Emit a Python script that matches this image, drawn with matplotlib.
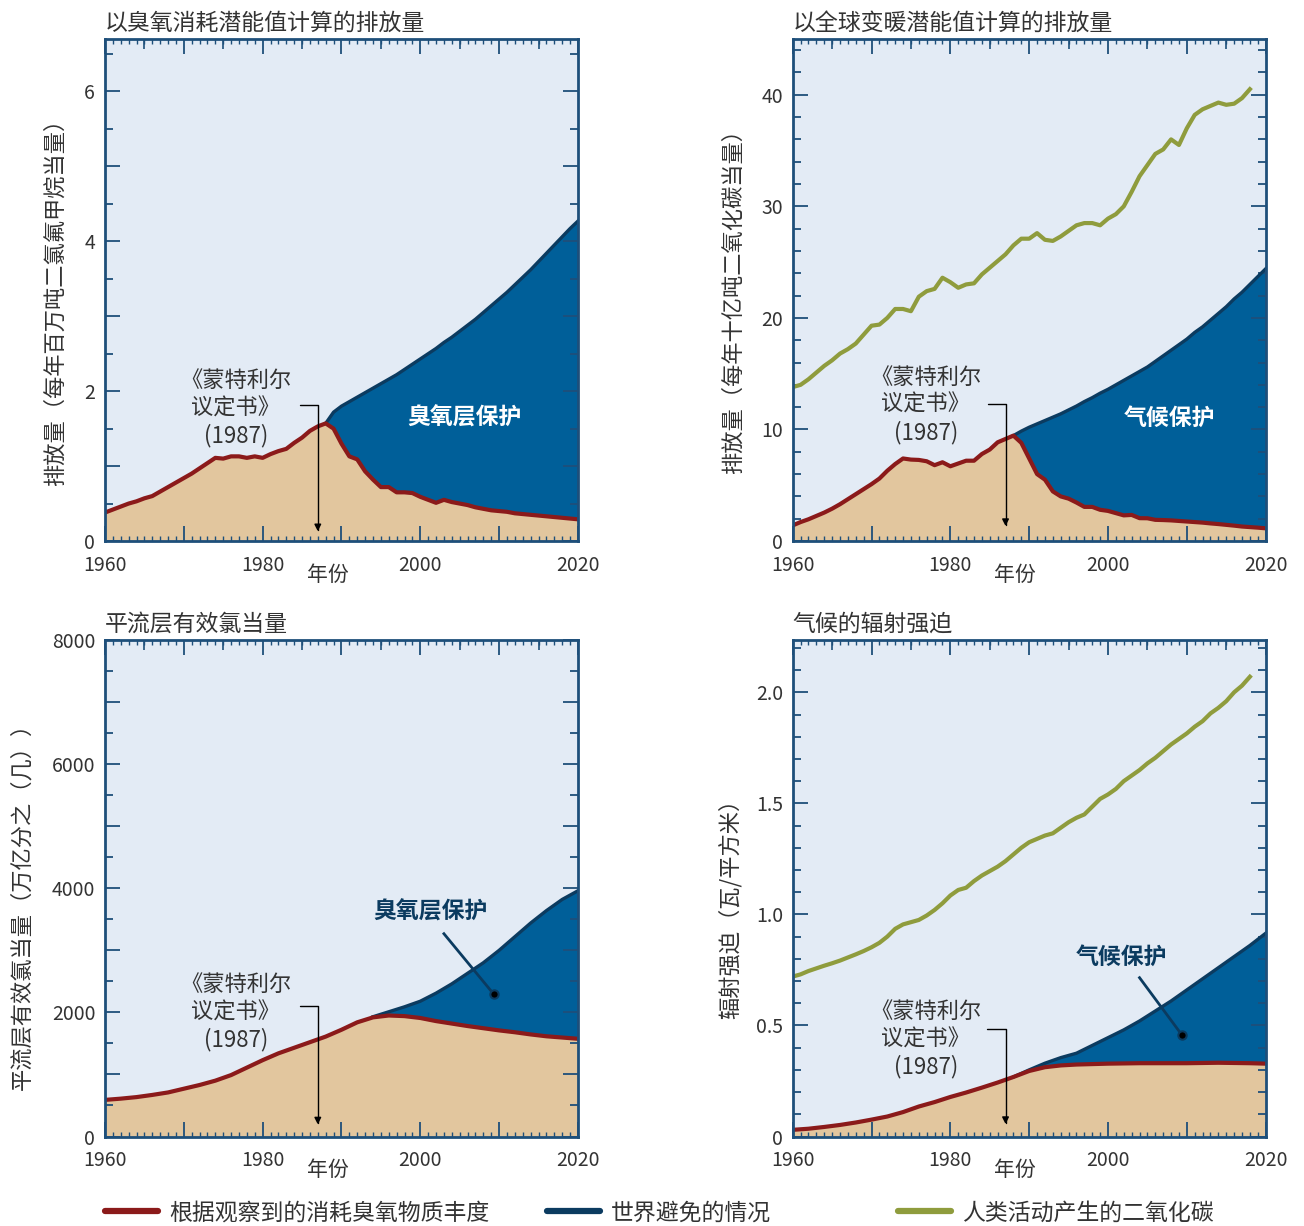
import matplotlib.pyplot as plt
import matplotlib.transforms as mtransforms
import numpy as np
from matplotlib.lines import Line2D
from matplotlib.ticker import MultipleLocator, FuncFormatter

plt.rcParams['font.family'] = ['Noto Sans CJK SC', 'DejaVu Sans']

# ---- datos ----
years = list(range(1960, 2021))
years_avoided = list(range(1988, 2021))
years_co2 = list(range(1960, 2019))
years_2 = list(range(1960, 2021, 2))
years_eesc_avoided = list(range(1994, 2021, 2))
years_rf_avoided = list(range(1988, 2021, 2))

# 以臭氧消耗潜能值计算的排放量 (百万吨 CFC-11 当量)
odp_observed = [0.38, 0.42, 0.46, 0.50, 0.53, 0.57, 0.60, 0.66, 0.72, 0.78,
                0.84, 0.90, 0.97, 1.04, 1.11, 1.10, 1.13, 1.13, 1.11, 1.13,
                1.11, 1.16, 1.20, 1.23, 1.31, 1.38, 1.47, 1.53, 1.57, 1.50,
                1.30, 1.13, 1.09, 0.93, 0.82, 0.72, 0.72, 0.65, 0.65, 0.64,
                0.59, 0.55, 0.51, 0.55, 0.52, 0.50, 0.48, 0.45, 0.43, 0.41,
                0.40, 0.39, 0.37, 0.36, 0.35, 0.34, 0.33, 0.32, 0.31, 0.30,
                0.29]
odp_avoided = [1.57, 1.72, 1.80, 1.86, 1.92, 1.98, 2.04, 2.10, 2.16, 2.22,
               2.29, 2.36, 2.43, 2.50, 2.57, 2.65, 2.72, 2.80, 2.88, 2.96,
               3.05, 3.14, 3.23, 3.32, 3.42, 3.52, 3.62, 3.73, 3.84, 3.95,
               4.06, 4.17, 4.27]

# 以全球变暖潜能值计算的排放量 (十亿吨 CO2 当量)
gwp_observed = [1.4, 1.7, 1.95, 2.25, 2.55, 2.9, 3.3, 3.75, 4.2, 4.65,
                5.1, 5.6, 6.3, 6.9, 7.4, 7.3, 7.27, 7.15, 6.8, 7.06,
                6.7, 6.95, 7.2, 7.2, 7.8, 8.2, 8.85, 9.15, 9.45, 8.8,
                7.4, 6.0, 5.5, 4.45, 4.0, 3.8, 3.45, 3.06, 3.06, 2.8,
                2.7, 2.5, 2.3, 2.34, 2.05, 2.04, 1.9, 1.88, 1.85, 1.8,
                1.75, 1.7, 1.65, 1.58, 1.52, 1.45, 1.38, 1.3, 1.25, 1.2,
                1.14]
gwp_avoided = [9.45, 9.85, 10.2, 10.5, 10.8, 11.1, 11.4, 11.75, 12.1, 12.5,
               12.85, 13.25, 13.6, 14.0, 14.4, 14.8, 15.2, 15.6, 16.1, 16.6,
               17.1, 17.6, 18.1, 18.7, 19.2, 19.8, 20.4, 21.0, 21.7, 22.3,
               23.0, 23.7, 24.4]
co2_emissions = [13.8, 14.0, 14.5, 15.1, 15.7, 16.2, 16.8, 17.2, 17.7, 18.5,
                 19.3, 19.4, 20.0, 20.8, 20.8, 20.6, 21.9, 22.4, 22.6, 23.6,
                 23.2, 22.7, 23.0, 23.1, 23.9, 24.5, 25.1, 25.7, 26.5, 27.1,
                 27.1, 27.6, 27.0, 26.9, 27.3, 27.8, 28.3, 28.5, 28.5, 28.3,
                 28.9, 29.3, 30.0, 31.3, 32.7, 33.7, 34.7, 35.1, 36.0, 35.5,
                 37.0, 38.2, 38.7, 39.0, 39.3, 39.1, 39.2, 39.7, 40.5]

# 平流层有效氯当量 (ppt)
eesc_observed = [590, 610, 635, 670, 710, 770, 830, 900, 990, 1110,
                 1230, 1340, 1430, 1520, 1610, 1720, 1840, 1920, 1950, 1940,
                 1910, 1860, 1820, 1780, 1745, 1710, 1680, 1645, 1615, 1595,
                 1575]
eesc_avoided = [1930, 2010, 2090, 2180, 2310, 2460, 2630, 2800, 3000, 3220,
                3440, 3640, 3820, 3960]

# 气候的辐射强迫 (W/m2)
rf_observed = [0.03, 0.035, 0.043, 0.052, 0.063, 0.076, 0.09, 0.11, 0.135, 0.155,
               0.178, 0.198, 0.22, 0.243, 0.268, 0.295, 0.312, 0.32, 0.324, 0.326,
               0.328, 0.329, 0.33, 0.33, 0.33, 0.33, 0.331, 0.332, 0.331, 0.33,
               0.328]
rf_avoided = [0.268, 0.30, 0.33, 0.355, 0.375, 0.41, 0.445, 0.48, 0.52, 0.565,
              0.61, 0.66, 0.71, 0.76, 0.81, 0.86, 0.915]
rf_co2 = [0.72, 0.73, 0.745, 0.757, 0.769, 0.78, 0.792, 0.806, 0.82, 0.835,
          0.852, 0.872, 0.90, 0.935, 0.955, 0.965, 0.975, 0.995, 1.02, 1.05,
          1.085, 1.11, 1.12, 1.15, 1.175, 1.195, 1.215, 1.24, 1.27, 1.30,
          1.325, 1.34, 1.355, 1.365, 1.39, 1.415, 1.435, 1.45, 1.485, 1.52,
          1.54, 1.565, 1.60, 1.625, 1.65, 1.68, 1.705, 1.735, 1.765, 1.79,
          1.815, 1.845, 1.87, 1.905, 1.93, 1.96, 2.0, 2.03, 2.07]

legend_labels = ['根据观察到的消耗臭氧物质丰度', '世界避免的情况', '人类活动产生的二氧化碳']

BG = '#E3EBF5'
TAN = '#E2C69E'
BLUE = '#005F99'
NAVY = '#0B3B60'
RED = '#8B1A1A'
OLIVE = '#8F9C3D'
FRAME = '#1E4F7A'
TEXT = '#333333'


def _style_axes(ax, ylim, major, minor, label_step, fmt):
    """Marco, marcas hacia dentro y etiquetas de los ejes."""
    ax.set_xlim(1960, 2020)
    ax.set_ylim(*ylim)
    ax.set_facecolor(BG)
    for sp in ax.spines.values():
        sp.set_color(FRAME)
        sp.set_linewidth(2)
        sp.set_zorder(10)

    ax.xaxis.set_major_locator(MultipleLocator(10))
    ax.xaxis.set_minor_locator(MultipleLocator(1))
    ax.xaxis.set_major_formatter(FuncFormatter(
        lambda v, pos: f'{v:.0f}' if round(v) % 20 == 0 else ''))
    ax.yaxis.set_major_locator(MultipleLocator(major))
    ax.yaxis.set_minor_locator(MultipleLocator(minor))

    def _fmt(v, pos):
        k = v / label_step
        if abs(k - round(k)) > 1e-6:
            return ''
        return fmt(v)
    ax.yaxis.set_major_formatter(FuncFormatter(_fmt))

    ax.tick_params(axis='both', which='both', direction='in', top=True, right=True,
                   color=FRAME, labelcolor=TEXT, labelsize=14)
    ax.tick_params(axis='x', which='major', length=11, width=1.3, pad=10)
    ax.tick_params(axis='x', which='minor', length=3.6, width=1)
    ax.tick_params(axis='y', which='major', length=11, width=1.3, pad=7)
    ax.tick_params(axis='y', which='minor', length=6, width=1.3)

    # marcas intermedias de cinco años
    for loc in ('bottom', 'top'):
        sec = ax.secondary_xaxis(loc)
        sec.set_xticks(list(range(1965, 2020, 10)))
        sec.set_xticklabels([])
        sec.tick_params(direction='in', length=7, width=1.2, color=FRAME)
        for sp in sec.spines.values():
            sp.set_visible(False)


def _draw_panel(ax, obs_years, obs_vals, av_years, av_vals):
    base = np.interp(av_years, obs_years, obs_vals)
    ax.fill_between(obs_years, 0, obs_vals, color=TAN, lw=0, zorder=1)
    ax.fill_between(av_years, base, av_vals, color=BLUE, lw=0, zorder=1)
    ax.plot(av_years, av_vals, color=NAVY, lw=2.4, zorder=3)
    ax.plot(obs_years, obs_vals, color=RED, lw=3, zorder=4, solid_joinstyle='round')


def _montreal(ax, text_xy, elbow_xy, tip_y):
    ax.text(text_xy[0], text_xy[1], '《蒙特利尔\n议定书》\n(1987)', ha='center', va='center',
            fontsize=16, color=TEXT, linespacing=1.25, zorder=6)
    ax.annotate('', xy=(1987, tip_y), xytext=elbow_xy, zorder=6,
                arrowprops=dict(arrowstyle='-|>', color='black', lw=1, shrinkA=0, shrinkB=0,
                                mutation_scale=10,
                                connectionstyle='angle,angleA=0,angleB=90,rad=0'))


def _labels(ax, title, ylabel, ylabel_x, ylabel_y, xlabel_x):
    ax.set_title(title, loc='left', fontsize=16.5, color=TEXT, pad=7)
    ax.text(ylabel_x, ylabel_y, ylabel, transform=ax.transAxes, rotation=90,
            ha='center', va='center', fontsize=16, color=TEXT)
    trans = mtransforms.blended_transform_factory(ax.transData, ax.transAxes)
    ax.text(xlabel_x, -0.068, '年份', transform=trans, ha='center', va='center',
            fontsize=15, color=TEXT)


fig = plt.figure(figsize=(13.04, 12.26), dpi=100)
ax_tl = fig.add_axes([0.0805, 0.5587, 0.3627, 0.4095])
ax_tr = fig.add_axes([0.6079, 0.5587, 0.3627, 0.4095])
ax_bl = fig.add_axes([0.0805, 0.0730, 0.3627, 0.4049])
ax_br = fig.add_axes([0.6079, 0.0730, 0.3627, 0.4049])

# --- arriba izquierda ---
_style_axes(ax_tl, (0, 6.7), 1, 0.5, 2, lambda v: f'{v:.0f}')
_draw_panel(ax_tl, years, odp_observed, years_avoided, odp_avoided)
_montreal(ax_tl, (1976.6, 1.77), (1984.8, 1.81), 0.13)
ax_tl.text(2005.6, 1.64, '臭氧层保护', color='white', fontsize=16.5, fontweight='bold',
           ha='center', va='center', zorder=6)
_labels(ax_tl, '以臭氧消耗潜能值计算的排放量', '排放量（每年百万吨二氯氟甲烷当量）',
        -0.106, 0.486, 1988.3)

# --- arriba derecha ---
_style_axes(ax_tr, (0, 45), 10, 2, 10, lambda v: f'{v:.0f}')
_draw_panel(ax_tr, years, gwp_observed, years_avoided, gwp_avoided)
ax_tr.plot(years_co2, co2_emissions, color=OLIVE, lw=3, zorder=4)
_montreal(ax_tr, (1976.9, 12.2), (1984.8, 12.3), 1.34)
ax_tr.text(2007.8, 11.0, '气候保护', color='white', fontsize=16.5, fontweight='bold',
           ha='center', va='center', zorder=6)
_labels(ax_tr, '以全球变暖潜能值计算的排放量', '排放量（每年十亿吨二氧化碳当量）',
        -0.126, 0.488, 1988.2)

# --- abajo izquierda ---
_style_axes(ax_bl, (0, 8000), 1000, 500, 2000, lambda v: f'{v:.0f}')
_draw_panel(ax_bl, years_2, eesc_observed, years_eesc_avoided, eesc_avoided)
_montreal(ax_bl, (1976.6, 2002), (1984.7, 2099), 194)
ax_bl.text(2001.3, 3620, '臭氧层保护', color=NAVY, fontsize=16.5, fontweight='bold',
           ha='center', va='center', zorder=6)
ax_bl.plot([2003.0, 2009.3], [3268, 2297], color=NAVY, lw=2, zorder=6)
ax_bl.plot([2009.3], [2297], 'o', ms=6, mfc='black', mec=NAVY, mew=1.5, zorder=7)
_labels(ax_bl, '平流层有效氯当量', '平流层有效氯当量（万亿分之（几））',
        -0.176, 0.474, 1988.3)

# --- abajo derecha ---
_style_axes(ax_br, (0, 2.235), 0.5, 0.1, 0.5, lambda v: '0' if v == 0 else f'{v:.1f}')
_draw_panel(ax_br, years_2, rf_observed, years_rf_avoided, rf_avoided)
ax_br.plot(years_co2, rf_co2, color=OLIVE, lw=3, zorder=4)
_montreal(ax_br, (1976.9, 0.438), (1984.7, 0.482), 0.056)
ax_br.text(2001.7, 0.809, '气候保护', color=NAVY, fontsize=16.5, fontweight='bold',
           ha='center', va='center', zorder=6)
ax_br.plot([2004.0, 2009.4], [0.715, 0.456], color=NAVY, lw=2, zorder=6)
ax_br.plot([2009.4], [0.456], 'o', ms=6, mfc='black', mec=NAVY, mew=1.5, zorder=7)
_labels(ax_br, '气候的辐射强迫', '辐射强迫（瓦/平方米）', -0.133, 0.47, 1988.2)

# --- leyenda inferior ---
legend_colors = [RED, NAVY, OLIVE]
legend_x = [105 / 1304, 547 / 1304, 898 / 1304]
for color, label, x in zip(legend_colors, legend_labels, legend_x):
    handle = Line2D([], [], color=color, lw=4.5, solid_capstyle='round')
    fig.legend([handle], [label], loc='center left', bbox_to_anchor=(x, 0.0106),
               frameon=False, fontsize=16.5, handlelength=2.3, handletextpad=0.5,
               borderpad=0, borderaxespad=0, labelcolor=TEXT)

fig.savefig('out.png', dpi=100)
